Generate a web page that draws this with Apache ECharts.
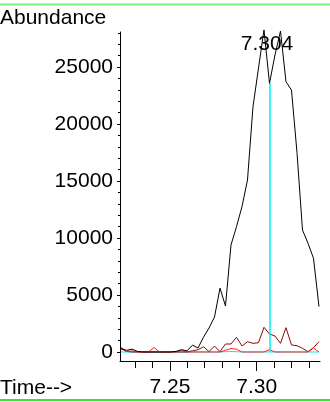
<!DOCTYPE html>
<html>
<head>
<meta charset="utf-8">
<script src="https://cdn.jsdelivr.net/npm/echarts@6/dist/echarts.min.js"></script>
<style>
html,body{margin:0;padding:0;background:#fff;}
#chart{width:330px;height:402px;}
</style>
</head>
<body>
<div id="chart"></div>
<script>
// Retention times (min)
var times = [7.22176,7.22493,7.22810,7.23127,7.23444,7.23761,7.24078,7.24395,7.24712,7.25029,
             7.25346,7.25663,7.25980,7.26297,7.26614,7.26931,7.27248,7.27565,7.27882,7.28199,
             7.28516,7.28833,7.29150,7.29467,7.29784,7.30101,7.30418,7.30735,7.31052,7.31369,
             7.31686,7.32003,7.32320,7.32637,7.32954,7.33271,7.33588];
// Abundance traces
var ticValues = [300,150,250,50,0,0,0,0,0,0,
                 50,200,100,600,350,1300,2100,3070,5600,4035,
                 9390,10990,12750,15090,21520,24900,28250,23570,26050,28150,
                 23710,22980,17500,10700,9540,8220,3980];
var darkRedValues = [300,50,0,0,0,0,0,0,0,0,
                     0,0,0,100,200,465,30,525,30,700,
                     700,1290,525,900,760,815,2165,1580,1400,760,
                     2130,615,550,325,30,380,900];
var redValues = [400,50,100,0,0,0,400,0,0,0,
                 0,150,0,0,0,0,0,0,0,150,
                 300,250,0,0,0,0,0,200,0,0,
                 0,0,0,0,0,350,0];
var cyanValues = [0,0,0,0,0,0,0,0,0,0,
                  0,0,0,0,0,0,0,0,0,30,
                  40,30,0,0,0,0,0,0,0,0,
                  0,0,0,0,0,0,0];
// Axis ticks / labels
var xMinorTicks = [7.23,7.24,7.25,7.26,7.27,7.28,7.29,7.30,7.31,7.32,7.33];
var xMajorTicks = [7.25,7.30];
var yMinorTicks = [0,1000,2000,3000,4000,5000,6000,7000,8000,9000,10000,11000,12000,13000,14000,
                   15000,16000,17000,18000,19000,20000,21000,22000,23000,24000,25000,26000,27000,28000];
var yMajorTicks = [0,5000,10000,15000,20000,25000];
var peakIndex = 26;   // labelled peak
var markerIndex = 27; // cyan marker line

var FONT = 'Liberation Sans, Arial, sans-serif';
var FS = 21;
var X_MIN = 7.22118, X_MAX = 7.33646, Y_MIN = -790, Y_MAX = 28070;

function pairs(vals){ return times.map(function(t,i){ return [t, vals[i]]; }); }

var chart = echarts.init(document.getElementById('chart'), null, {renderer:'canvas'});
chart.setOption({
  animation: false,
  backgroundColor: '#ffffff',
  grid: {left:120, right:10, top:32, bottom:41, containLabel:false},
  xAxis: [
    {type:'value', min:X_MIN, max:X_MAX, position:'bottom',
     axisLine:{show:true, onZero:false, lineStyle:{color:'#000', width:1}},
     axisTick:{show:true, length:7, customValues:xMinorTicks, lineStyle:{color:'#000'}},
     axisLabel:{show:false}, splitLine:{show:false}},
    {type:'value', min:X_MIN, max:X_MAX, position:'bottom',
     axisLine:{show:false, onZero:false},
     axisTick:{show:true, length:10, customValues:xMajorTicks, lineStyle:{color:'#000'}},
     axisLabel:{show:true, customValues:xMajorTicks, margin:16, fontSize:FS, fontFamily:FONT, color:'#000',
                formatter:function(v){ return v.toFixed(2); }},
     splitLine:{show:false}}
  ],
  yAxis: [
    {type:'value', min:Y_MIN, max:Y_MAX, position:'left',
     axisLine:{show:true, onZero:false, lineStyle:{color:'#000', width:1}},
     axisTick:{show:true, length:2, customValues:yMinorTicks, lineStyle:{color:'#000'}},
     axisLabel:{show:true, customValues:yMajorTicks, margin:7, fontSize:FS, fontFamily:FONT, color:'#000',
                formatter:function(v){ return String(Math.round(v)); }},
     splitLine:{show:false}},
    {type:'value', min:Y_MIN, max:Y_MAX, position:'left',
     axisLine:{show:false, onZero:false},
     axisTick:{show:true, length:3, customValues:yMajorTicks, lineStyle:{color:'#000'}},
     axisLabel:{show:false}, splitLine:{show:false}}
  ],
  series: [
    {type:'line', data:pairs(ticValues), showSymbol:false, symbol:'none', clip:false,
     lineStyle:{color:'#000', width:1}, z:5,
     markPoint:{symbol:'rect', symbolSize:2, silent:true, itemStyle:{color:'rgba(0,0,0,0)'},
       data:[{coord:[times[peakIndex], Y_MAX], value:times[peakIndex].toFixed(3)}],
       label:{show:true, position:'inside', offset:[3,12], fontSize:FS, fontFamily:FONT, color:'#000',
              formatter:function(p){ return p.value; }}}},
    {type:'line', data:pairs(cyanValues), showSymbol:false, symbol:'none',
     lineStyle:{color:'#00eeee', width:1}, z:3,
     markLine:{symbol:'none', silent:true, label:{show:false},
       lineStyle:{color:'#00eeee', width:1.5, type:'solid'},
       data:[[{coord:[times[markerIndex], 0]}, {coord:[times[markerIndex], ticValues[markerIndex]]}]]}},
    {type:'line', data:pairs(darkRedValues), showSymbol:false, symbol:'none',
     lineStyle:{color:'#8b0a0a', width:1}, z:4},
    {type:'line', data:pairs(redValues), showSymbol:false, symbol:'none',
     lineStyle:{color:'#ff2020', width:1}, z:4}
  ],
  graphic: [
    {type:'line', shape:{x1:0, y1:4.5, x2:330, y2:4.5}, style:{stroke:'#80ee80', lineWidth:2}, silent:true},
    {type:'line', shape:{x1:0, y1:400, x2:330, y2:400}, style:{stroke:'#40dd40', lineWidth:2}, silent:true},
    {type:'text', x:0, y:18, style:{text:'Abundance', fontSize:FS, fontFamily:FONT, fill:'#000', align:'left', verticalAlign:'middle'}},
    {type:'text', x:0, y:388, style:{text:'Time-->', fontSize:FS, fontFamily:FONT, fill:'#000', align:'left', verticalAlign:'middle'}}
  ]
});
</script>
</body>
</html>
